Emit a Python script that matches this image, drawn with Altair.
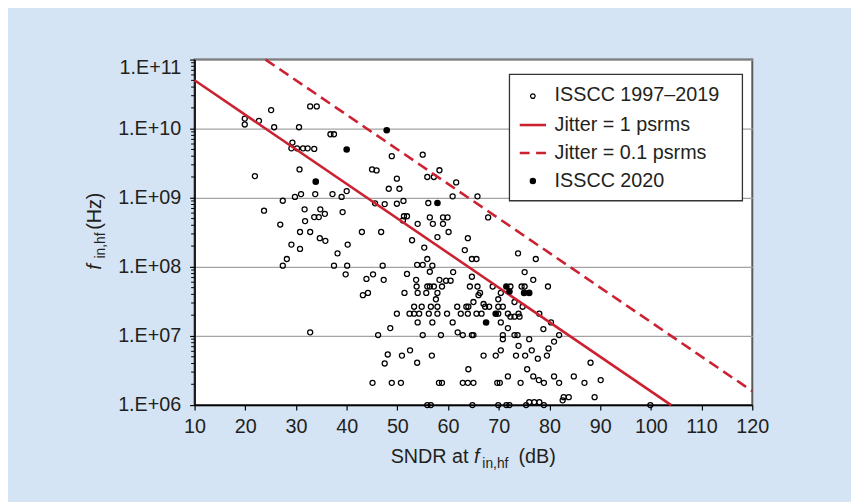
import altair as alt
import pandas as pd

# ---------------- data ----------------
# ISSCC 1997-2019 (open circles): SNDR (dB) and f_in,hf (Hz)
old_sndr = [
    19.9, 19.9, 22.7, 25.1, 25.7, 30.6, 32.8, 34.1, 36.8, 37.5, 29.3, 29.1, 30.2, 31.4, 32.3, 33.6,
    21.9, 30.7, 45.0, 45.9, 27.4, 29.8, 31.0, 33.8, 37.2, 39.0, 40.0, 45.6, 47.5, 23.7, 31.7, 34.8,
    35.7, 33.6, 34.5, 31.8, 39.2, 26.9, 30.8, 32.8, 34.7, 35.8, 43.0, 46.8, 29.1, 30.8, 40.2, 38.2,
    28.2, 27.4, 37.5, 40.1, 47.1, 39.8, 45.2, 43.9, 47.3,
    43.2, 44.2, 32.8, 46.2, 47.5, 45.1,
    48.9, 55.0, 55.9, 57.2, 58.3, 49.9, 48.3, 50.4, 61.6, 60.9, 65.8, 51.2, 49.9, 56.1, 67.9, 51.3,
    51.9, 51.1, 56.4, 59.0, 59.9, 54.0, 57.0, 59.0, 60.1, 57.9, 63.9, 52.9, 55.3, 63.3, 73.8, 64.7,
    65.6, 77.3, 55.9, 53.9, 55.0, 56.9, 51.9, 56.4, 61.0, 75.1, 64.7, 53.7, 58.3, 59.6, 60.5, 76.8,
    53.8, 55.9, 56.4, 57.2, 58.8, 64.3, 65.8, 68.8, 72.3, 74.5, 75.1, 79.7,
    51.4, 54.0, 55.7, 57.9, 66.3, 70.4, 66.0, 57.6, 65.0, 67.0, 69.9, 73.1, 74.7,
    53.3, 54.8, 56.6, 57.9, 61.8, 63.6, 64.0, 67.3, 68.1, 69.9, 70.8,
    49.9, 52.4, 53.3, 54.3, 56.2, 57.9, 59.8, 62.5, 63.9, 65.6, 66.6, 69.9, 71.8, 73.9, 78.0,
    72.3, 73.1, 74.1, 54.0, 56.9, 60.9, 70.4, 80.3, 48.6, 71.8, 78.8,
    55.0, 58.6, 62.9, 64.7, 65.0, 70.8, 73.1, 73.7, 81.9, 61.9,
    70.8, 76.0, 80.9, 73.9, 70.4, 76.5, 79.8, 52.5, 48.1,
    50.9, 56.8, 67.0, 69.4, 73.4, 75.2, 79.5, 77.7, 53.9, 64.0, 75.6,
    71.8, 76.8, 80.9, 84.8,
    48.9, 50.7, 58.2, 58.8, 62.9, 63.9, 65.0, 69.7, 70.2, 74.3, 78.9, 81.9, 77.9,
    55.9, 56.6, 64.8, 69.9, 71.5, 72.1, 75.4, 78.9, 76.0, 77.0, 78.0, 82.8, 83.8,
    88.1, 86.9, 90.1, 82.6, 88.9, 99.9,
]
old_f = [
    1.4e10, 1.15e10, 1.3e10, 1.86e10, 1.05e10, 1.05e10, 2.1e10, 2.1e10, 8.3e9, 8.3e9, 6.3e9, 5.2e9, 5.2e9, 5.2e9, 5.2e9, 5.1e9,
    2.06e9, 2.57e9, 2.57e9, 2.49e9, 9.06e8, 1.03e9, 1.13e9, 1.13e9, 1.13e9, 1.03e9, 1.25e9, 8.3e8, 8.1e8, 6.5e8, 6.8e8, 6.8e8,
    5.85e8, 5.25e8, 5.25e8, 4.6e8, 6.2e8, 4.1e8, 3.2e8, 3.2e8, 2.6e8, 2.38e8, 3.2e8, 3.2e8, 2.1e8, 1.82e8, 2.1e8, 1.57e8,
    1.3e8, 1.04e8, 1.04e8, 1.04e8, 1.04e8, 7.8e7, 7.8e7, 6.7e7, 6.5e7,
    3.9e7, 4.2e7, 1.13e7, 1.03e7, 4.0e6, 2.1e6,
    4.0e9, 4.2e9, 2.0e9, 2.0e9, 2.5e9, 1.89e9, 1.35e9, 1.35e9, 1.67e9, 1.05e9, 1.05e9, 9.0e8, 8.2e8, 8.4e8, 5.2e8, 5.4e8,
    5.4e8, 4.7e8, 5.2e8, 5.2e8, 5.2e8, 4.2e8, 4.2e8, 4.2e8, 3.2e8, 2.7e8, 2.6e8, 2.43e8, 1.9e8, 1.75e8, 1.57e8, 1.3e8,
    1.3e8, 1.3e8, 1.3e8, 1.07e8, 1.07e8, 1.04e8, 7.9e7, 8.5e7, 8.4e7, 8.4e7, 7.2e7, 6.5e7, 6.5e7, 6.3e7, 6.3e7, 6.5e7,
    5.2e7, 5.2e7, 5.2e7, 5.2e7, 5.2e7, 5.2e7, 5.2e7, 5.2e7, 5.2e7, 5.2e7, 5.2e7, 5.2e7,
    4.2e7, 4.2e7, 4.2e7, 4.2e7, 4.2e7, 4.2e7, 3.9e7, 3.4e7, 3.1e7, 2.9e7, 3.4e7, 3.1e7, 2.65e7,
    2.65e7, 2.65e7, 2.65e7, 2.65e7, 2.65e7, 2.65e7, 2.65e7, 2.65e7, 2.65e7, 2.65e7, 2.65e7,
    2.1e7, 2.1e7, 2.1e7, 2.1e7, 2.1e7, 2.1e7, 2.1e7, 2.1e7, 2.1e7, 2.1e7, 2.1e7, 2.1e7, 2.1e7, 2.1e7, 2.1e7,
    1.9e7, 1.9e7, 1.9e7, 1.57e7, 1.57e7, 1.57e7, 1.57e7, 1.57e7, 1.3e7, 1.3e7, 1.26e7,
    1.03e7, 1.03e7, 1.03e7, 1.03e7, 1.03e7, 1.03e7, 1.03e7, 1.03e7, 1.03e7, 1.13e7,
    9.0e6, 9.0e6, 8.3e6, 7.2e6, 6.2e6, 6.2e6, 6.6e6, 6.2e6, 5.4e6,
    5.2e6, 5.2e6, 5.2e6, 5.2e6, 5.2e6, 5.2e6, 5.2e6, 4.7e6, 4.1e6, 3.3e6, 3.3e6,
    2.6e6, 2.6e6, 2.6e6, 2.6e6,
    2.1e6, 2.1e6, 2.1e6, 2.1e6, 2.1e6, 2.1e6, 2.1e6, 2.1e6, 2.1e6, 2.1e6, 2.1e6, 2.1e6, 2.3e6,
    1.0e6, 1.0e6, 1.0e6, 1.0e6, 1.0e6, 1.0e6, 1.0e6, 1.0e6, 1.1e6, 1.1e6, 1.1e6, 1.3e6, 1.3e6,
    4.1e6, 2.1e6, 2.3e6, 1.17e6, 1.3e6, 1.0e6,
]

# ISSCC 2020 (filled dots)
new_sndr = [40.0, 33.9, 47.9, 57.9, 71.5, 72.1, 75.0, 76.0, 69.4, 67.5]
new_f = [5.0e9, 1.71e9, 9.5e9, 8.4e8, 5.2e7, 4.4e7, 4.2e7, 4.2e7, 2.1e7, 1.57e7]

# Jitter limit lines (end points)
jit1_sndr = [10, 104]
jit1_f = [5.03e10, 1.0e6]
jit01_sndr = [24, 120]
jit01_f = [1.0e11, 1.59e6]

x_ticks = [10, 20, 30, 40, 50, 60, 70, 80, 90, 100, 110, 120]
y_ticks = [1e6, 1e7, 1e8, 1e9, 1e10, 1e11]
y_minor = [k * 10.0 ** d for d in range(6, 11) for k in range(2, 10)]

legend_labels = ["ISSCC 1997\u20132019", "Jitter = 1 psrms", "Jitter = 0.1 psrms", "ISSCC 2020"]

# ---------------- styling ----------------
FONT = "Liberation Sans"
TXT = "#231f20"
RED = "#cc2131"
BG = "#d5e4f4"
W, H = 565, 350

xscale = alt.Scale(domain=[10, 120], nice=False, zero=False)
yscale = alt.Scale(type="log", domain=[1e6, 1e11], nice=False)

xaxis = alt.Axis(values=x_ticks, grid=False, title=None, tickSize=5, tickWidth=1.2,
                 tickColor="black", domainColor="black", domainWidth=1.5,
                 labelFont=FONT, labelFontSize=20, labelColor=TXT, labelPadding=7,
                 labelFlush=False, labelOverlap=False)
yaxis = alt.Axis(values=y_ticks, grid=True, gridColor="#a3a3a3", gridWidth=1.3, title=None,
                 tickSize=5, tickWidth=1.2, tickColor="black", domainColor="black", domainWidth=1.5,
                 labelFont=FONT, labelFontSize=20, labelColor=TXT, labelPadding=9,
                 labelFlush=False, labelOverlap=False,
                 labelExpr="'1.E+' + (round(log(datum.value)/LN10) < 10 ? '0' : '') + round(log(datum.value)/LN10)",
                 labelOffset={"condition": {"test": "datum.value >= 1e11", "value": 8}, "value": 0})

X = alt.X("sndr:Q", scale=xscale, axis=xaxis)
Y = alt.Y("f:Q", scale=yscale, axis=yaxis)

df_old = pd.DataFrame({"sndr": old_sndr, "f": old_f})
df_new = pd.DataFrame({"sndr": new_sndr, "f": new_f})
df_j1 = pd.DataFrame({"sndr": jit1_sndr, "f": jit1_f})
df_j01 = pd.DataFrame({"sndr": jit01_sndr, "f": jit01_f})
df_minor = pd.DataFrame({"f": y_minor})

minor_ticks = alt.Chart(df_minor).mark_rule(color="black", strokeWidth=1).encode(
    x=alt.value(-3.5), x2=alt.value(0), y=alt.Y("f:Q", scale=yscale, axis=yaxis))

old = alt.Chart(df_old).mark_point(shape="circle", filled=False, size=26, strokeWidth=1.3,
                                   color="black", opacity=1).encode(x=X, y=Y)
line1 = alt.Chart(df_j1).mark_line(color=RED, strokeWidth=2.6).encode(x=X, y=Y)
line2 = alt.Chart(df_j01).mark_line(color=RED, strokeWidth=2.6, strokeDash=[11, 6]).encode(x=X, y=Y)
new = alt.Chart(df_new).mark_point(shape="circle", filled=True, size=45, color="black",
                                   opacity=1).encode(x=X, y=Y)


def one(label):
    return pd.DataFrame({"t": [label]})


# ---------------- legend ----------------
LX0, LX1, LY0, LY1 = 319, 555, 15, 143
rows_y = [35.5, 66.3, 94.7, 123]
sym_x = 342.7
ln_x0, ln_x1 = 329.4, 356
txt_x = 364.7

legend_box = alt.Chart(one("box")).mark_rect(fill="white", stroke="#333333", strokeWidth=1.3).encode(
    x=alt.value(LX0), x2=alt.value(LX1), y=alt.value(LY0), y2=alt.value(LY1))
leg_c1 = alt.Chart(one("c1")).mark_point(shape="circle", filled=False, size=22, strokeWidth=1.2,
                                         color="black", opacity=1).encode(
    x=alt.value(sym_x), y=alt.value(rows_y[0] + 1.5))
leg_l1 = alt.Chart(one("l1")).mark_rule(color=RED, strokeWidth=2.6).encode(
    x=alt.value(ln_x0), x2=alt.value(ln_x1), y=alt.value(rows_y[1]))
leg_l2 = alt.Chart(one("l2")).mark_rule(color=RED, strokeWidth=2.6, strokeDash=[10, 6.6]).encode(
    x=alt.value(ln_x0), x2=alt.value(ln_x1), y=alt.value(rows_y[2]))
leg_c2 = alt.Chart(one("c2")).mark_point(shape="circle", filled=True, size=42, color="black",
                                         opacity=1).encode(
    x=alt.value(sym_x), y=alt.value(rows_y[3]))
leg_txt = [
    alt.Chart(one(lab)).mark_text(align="left", baseline="middle", font=FONT, fontSize=20, color=TXT).encode(
        x=alt.value(txt_x), y=alt.value(ry), text="t:N")
    for lab, ry in zip(legend_labels, rows_y)
]

# ---------------- axis titles with subscripts ----------------
def piece(s, x, y, size=20, italic=False, angle=0):
    kw = dict(align="left", baseline="alphabetic", font=FONT, fontSize=size, color=TXT)
    if italic:
        kw["fontStyle"] = "italic"
    if angle:
        kw["angle"] = angle
    return alt.Chart(one(s)).mark_text(**kw).encode(x=alt.value(x), y=alt.value(y), text="t:N")


xt = [
    piece("SNDR at", 198.7, 409),
    piece("f", 283.2, 409, italic=True),
    piece("in,hf", 291.5, 413.5, size=14),
    piece("(dB)", 328.2, 409),
]
yt = [
    piece("f", -95, 213, italic=True, angle=270),
    piece("in,hf", -90.3, 201.5, size=14, angle=270),
    piece("(Hz)", -95, 172.5, angle=270),
]

chart = alt.layer(
    minor_ticks, old, line1, line2, new, legend_box, leg_c1, leg_l1, leg_l2, leg_c2, *leg_txt, *xt, *yt
).properties(
    width=W, height=H,
    autosize=alt.AutoSizeParams(type="none"),
    padding={"left": 189, "top": 49, "right": 100, "bottom": 100},
).configure(background=BG).configure_view(fill="white", stroke="#5a5a5a", strokeWidth=2)

chart.save("out.html", embed_options={"renderer": "svg", "actions": False})
